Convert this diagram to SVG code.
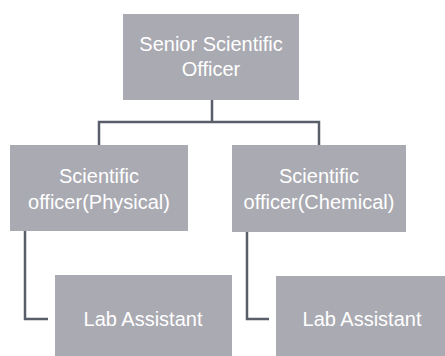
<svg xmlns="http://www.w3.org/2000/svg" width="445" height="356" viewBox="0 0 445 356">
<style>
.box{fill:#aaaab2;}
.t{font-family:"Liberation Sans",Arial,sans-serif;font-size:20px;fill:#ffffff;text-anchor:middle;}
.c{fill:none;stroke:#5a5e6a;stroke-width:2.5;}
</style>
<rect width="445" height="356" fill="#ffffff"/>
<g id="connectors">
<path class="c" d="M212 100 V122 M99 146 V122 H319 V146"/>
<path class="c" d="M25 231 V319 H48"/>
<path class="c" d="M247 232 V319 H269"/>
</g>
<g id="senior">
<rect class="box" x="123" y="14" width="176" height="86"/>
<text class="t" x="211" y="51">Senior Scientific</text>
<text class="t" x="211" y="76">Officer</text>
</g>
<g id="physical">
<rect class="box" x="10" y="145" width="178" height="86"/>
<text class="t" x="99" y="183">Scientific</text>
<text class="t" x="99" y="209">officer(Physical)</text>
</g>
<g id="chemical">
<rect class="box" x="232" y="145" width="174" height="87"/>
<text class="t" x="319" y="183">Scientific</text>
<text class="t" x="319" y="209">officer(Chemical)</text>
</g>
<g id="lab1">
<rect class="box" x="55" y="275" width="177" height="81"/>
<text class="t" x="143" y="326">Lab Assistant</text>
</g>
<g id="lab2">
<rect class="box" x="276" y="276" width="169" height="80"/>
<text class="t" x="362" y="326">Lab Assistant</text>
</g>
</svg>
